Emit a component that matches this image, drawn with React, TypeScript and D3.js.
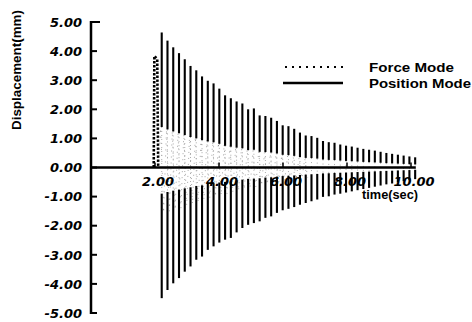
import React from "react";
import * as d3 from "d3";

// Axis ticks
const yTicks = [5, 4, 3, 2, 1, 0, -1, -2, -3, -4, -5];
const xTicks = [2, 4, 6, 8, 10];

// Position Mode: one stroke per oscillation cycle (time in sec, peak / trough in mm)
const cycleTimes = [
  2.21, 2.39, 2.57, 2.75, 2.93, 3.11, 3.29, 3.47, 3.65, 3.83, 4.01, 4.19, 4.37, 4.55, 4.73,
  4.91, 5.09, 5.27, 5.45, 5.63, 5.81, 5.99, 6.17, 6.35, 6.53, 6.71, 6.89, 7.07, 7.25, 7.43,
  7.61, 7.79, 7.97, 8.15, 8.33, 8.51, 8.69, 8.87, 9.05, 9.23, 9.41, 9.59, 9.77, 9.95, 10.13,
];
const positionPeaks = [
  4.64, 4.36, 4.13, 3.93, 3.72, 3.49, 3.34, 3.13, 2.98, 2.89, 2.71, 2.48, 2.38, 2.27, 2.2,
  2.0, 2.03, 1.79, 1.77, 1.71, 1.6, 1.45, 1.42, 1.33, 1.2, 1.1, 1.08, 1.02, 0.91, 0.87,
  0.85, 0.79, 0.75, 0.72, 0.68, 0.64, 0.61, 0.58, 0.54, 0.5, 0.47, 0.44, 0.41, 0.38, 0.35,
];
const positionTroughs = [
  -4.49, -4.21, -3.98, -3.8, -3.58, -3.4, -3.17, -3.06, -2.83, -2.71, -2.58, -2.48, -2.42, -2.23, -2.08,
  -1.97, -1.91, -1.85, -1.73, -1.68, -1.56, -1.47, -1.42, -1.36, -1.28, -1.22, -1.16, -1.1, -1.01, -0.99,
  -0.93, -0.9, -0.86, -0.82, -0.78, -0.74, -0.7, -0.66, -0.62, -0.58, -0.55, -0.5, -0.47, -0.44, -0.4,
];

// Force Mode trace (time in sec, displacement in mm)
const forceTimes = [
  1.96, 1.98, 2.07, 2.1, 2.18, 2.27, 2.36, 2.45, 2.54, 2.63, 2.72, 2.81, 2.9, 2.99, 3.08, 3.17,
  3.26, 3.35, 3.44, 3.53, 3.62, 3.71, 3.8, 3.89, 3.98, 4.07, 4.16, 4.25, 4.34, 4.43, 4.52, 4.61,
  4.7, 4.79, 4.88, 4.97, 5.06, 5.15, 5.24, 5.33, 5.42, 5.51, 5.6, 5.69, 5.78, 5.87, 5.96, 6.05,
  6.14, 6.23, 6.32, 6.41, 6.5, 6.59, 6.68, 6.77,
];
const forceValues = [
  0, 3.83, 3.72, 0, 1.35, -1.55, 1.3, -1.5, 1.25, -1.45, 1.2, -1.4, 1.15, -1.3, 1.1, -1.25,
  1.05, -1.2, 1.0, -1.1, 0.95, -1.05, 0.9, -1.0, 0.85, -0.95, 0.8, -0.9, 0.75, -0.85, 0.7, -0.8,
  0.66, -0.75, 0.62, -0.7, 0.58, -0.66, 0.55, -0.62, 0.52, -0.58, 0.48, -0.54, 0.45, -0.5, 0.42, -0.46,
  0.39, -0.43, 0.36, -0.4, 0.33, -0.37, 0.3, -0.34,
];

const W = 472;
const H = 322;

const tickFont = {
  fontFamily: "'DejaVu Sans', sans-serif",
  fontWeight: "bold" as const,
  fontStyle: "italic" as const,
  fontSize: 13,
};
const textFont = {
  fontFamily: "'Liberation Sans', Arial, sans-serif",
  fontWeight: "bold" as const,
  fontSize: 12.5,
};

export default function App() {
  const x = d3.scaleLinear().domain([0, 10]).range([91, 411]);
  const y = d3.scaleLinear().domain([-5, 5]).range([313, 22]);
  const y0 = y(0);

  const line = d3
    .line<[number, number]>()
    .x((d) => x(d[0]))
    .y((d) => y(d[1]));
  const forcePoints: [number, number][] = forceTimes.map((t, i) => [t, forceValues[i]]);

  return (
    <svg
      width={W}
      height={H}
      viewBox={`0 0 ${W} ${H}`}
      style={{ position: "absolute", left: 0, top: 0, display: "block" }}
    >
      <rect width={W} height={H} fill="#fff" />

      {/* Force Mode trace: faint dotted oscillation after the initial dotted spike */}
      <path
        d={line(forcePoints.slice(3)) ?? ""}
        fill="none"
        stroke="#000"
        strokeWidth={1}
        strokeDasharray="1 5"
        opacity={0.35}
      />
      <path
        d={line(forcePoints.slice(0, 4)) ?? ""}
        fill="none"
        stroke="#000"
        strokeWidth={2.6}
        strokeDasharray="2.4 1.6"
      />

      {/* Position Mode: a stroke per cycle, faint through the middle */}
      {cycleTimes.map((t, i) => {
        const px = x(t);
        const pk = positionPeaks[i];
        const tr = positionTroughs[i];
        return (
          <g key={i}>
            <line
              x1={px}
              x2={px}
              y1={y(pk * 0.3)}
              y2={y(tr * 0.2)}
              stroke="#aaa"
              strokeWidth={1}
              strokeDasharray="1 3"
            />
            <line x1={px} x2={px} y1={y(pk)} y2={y(pk * 0.3)} stroke="#000" strokeWidth={2.1} />
            <line x1={px} x2={px} y1={y(tr * 0.2)} y2={y(tr)} stroke="#000" strokeWidth={2.1} />
          </g>
        );
      })}

      {/* Y axis */}
      <line x1={x(0)} x2={x(0)} y1={y(5) - 1} y2={y(-5) + 1} stroke="#000" strokeWidth={2.5} />
      {yTicks.map((v) => (
        <g key={`yt${v}`}>
          <line
            x1={x(0)}
            x2={x(0) + (v === 5 ? 9 : 6)}
            y1={y(v)}
            y2={y(v)}
            stroke="#000"
            strokeWidth={2}
          />
          <text x={82} y={y(v) + 4.7} textAnchor="end" {...tickFont}>
            {v.toFixed(2)}
          </text>
        </g>
      ))}

      {/* X axis */}
      <line x1={x(0)} x2={x(10.15)} y1={y0} y2={y0} stroke="#000" strokeWidth={2.5} />
      {xTicks.map((v) => (
        <g key={`xt${v}`}>
          <line x1={x(v)} x2={x(v)} y1={y0} y2={y0 - 5} stroke="#000" strokeWidth={1.5} />
          <text x={x(v) + 3} y={186} textAnchor="middle" {...tickFont}>
            {v.toFixed(2)}
          </text>
        </g>
      ))}
      <text x={362} y={199} {...textFont} fontSize={12} textLength={56} lengthAdjust="spacingAndGlyphs">
        time(sec)
      </text>

      {/* Y axis title */}
      <text
        transform={`translate(21,70) rotate(-90)`}
        textAnchor="middle"
        {...textFont}
        textLength={120}
        lengthAdjust="spacingAndGlyphs"
      >
        Displacement(mm)
      </text>

      {/* Legend */}
      <line x1={285} x2={343} y1={67} y2={67} stroke="#000" strokeWidth={2} strokeDasharray="2 5" />
      <line x1={283} x2={343} y1={83} y2={83} stroke="#000" strokeWidth={2.5} />
      <text x={369} y={72} {...textFont} textLength={85} lengthAdjust="spacingAndGlyphs">
        Force Mode
      </text>
      <text x={369} y={88} {...textFont} textLength={102} lengthAdjust="spacingAndGlyphs">
        Position Mode
      </text>
    </svg>
  );
}
